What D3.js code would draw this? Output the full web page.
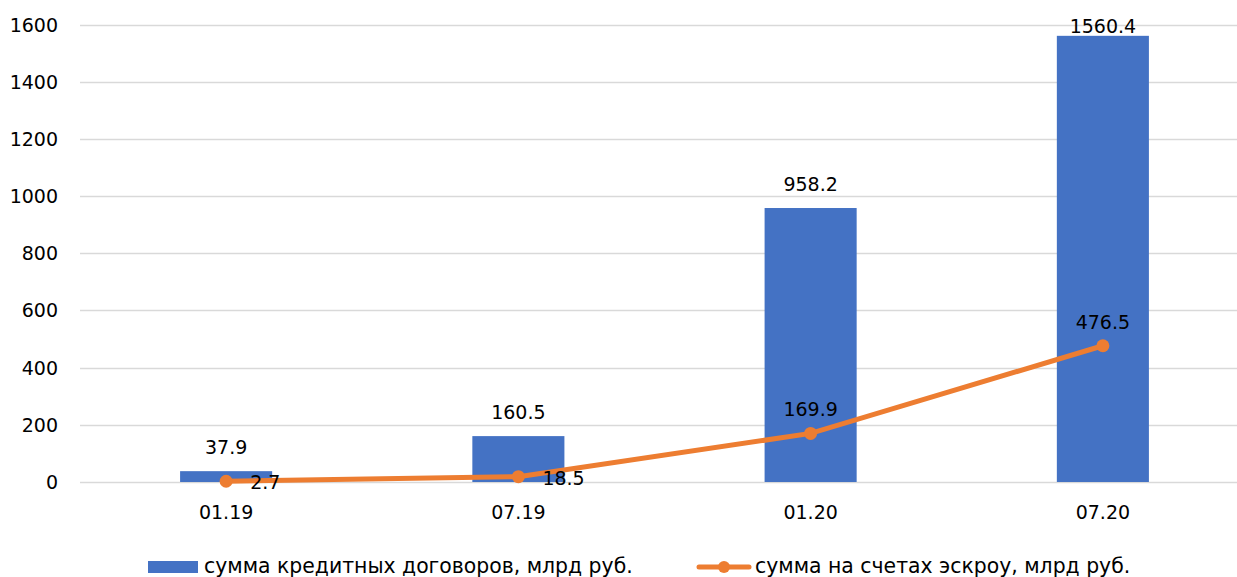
<!DOCTYPE html>
<html>
<head>
<meta charset="utf-8">
<script src="https://cdn.jsdelivr.net/npm/d3@7"></script>
<style>
  body { margin: 0; background: #fff; }
  text { font-family: "DejaVu Sans", Verdana, sans-serif; fill: #000; }
</style>
</head>
<body>
<svg id="chart" width="1237" height="577"></svg>
<script>
const periods = ['01.19', '07.19', '01.20', '07.20'];
const loanSums = [37.9, 160.5, 958.2, 1560.4];
const escrowSums = [2.7, 18.5, 169.9, 476.5];
const yTicks = [0, 200, 400, 600, 800, 1000, 1200, 1400, 1600];
const barName = 'сумма кредитных договоров, млрд руб.';
const lineName = 'сумма на счетах эскроу, млрд руб.';

const blue = '#4472C4';
const orange = '#ED7D31';
const fs = 19;
const legendFs = 20.4;

const svg = d3.select('#chart');

const x = d3.scaleBand()
  .domain(periods)
  .range([80, 1249])
  .paddingInner(0.685)
  .paddingOuter(0.3425);

const y = d3.scaleLinear()
  .domain([0, 1600])
  .range([482, 24.5]);

// gridlines
svg.append('g')
  .selectAll('line')
  .data(yTicks)
  .enter()
  .append('line')
  .attr('x1', 80)
  .attr('x2', 1237)
  .attr('y1', d => Math.round(y(d)) + 0.5)
  .attr('y2', d => Math.round(y(d)) + 0.5)
  .attr('stroke', '#d9d9d9')
  .attr('stroke-width', 1.3);

// y labels
svg.append('g')
  .selectAll('text')
  .data(yTicks)
  .enter()
  .append('text')
  .attr('x', 58)
  .attr('y', d => y(d) + 7)
  .attr('text-anchor', 'end')
  .style('font-size', fs + 'px')
  .text(d => d);

// x labels
svg.append('g')
  .selectAll('text')
  .data(periods)
  .enter()
  .append('text')
  .attr('x', d => x(d) + x.bandwidth() / 2)
  .attr('y', 519)
  .attr('text-anchor', 'middle')
  .style('font-size', fs + 'px')
  .text(d => d);

// bars
svg.append('g')
  .selectAll('rect')
  .data(loanSums)
  .enter()
  .append('rect')
  .attr('x', (d, i) => x(periods[i]))
  .attr('y', d => y(d))
  .attr('width', x.bandwidth())
  .attr('height', d => y(0) - y(d))
  .attr('fill', blue);

// bar labels, pushed down when they would leave the plot top
svg.append('g')
  .selectAll('text')
  .data(loanSums)
  .enter()
  .append('text')
  .attr('x', (d, i) => x(periods[i]) + x.bandwidth() / 2)
  .attr('y', d => Math.max(y(d) - 17, 33))
  .attr('text-anchor', 'middle')
  .style('font-size', fs + 'px')
  .text(d => d.toFixed(1));

// escrow line
const cx = (d, i) => x(periods[i]) + x.bandwidth() / 2;
const line = d3.line()
  .x(cx)
  .y(d => y(d));

svg.append('path')
  .datum(escrowSums)
  .attr('fill', 'none')
  .attr('stroke', orange)
  .attr('stroke-width', 5)
  .attr('stroke-linecap', 'round')
  .attr('d', line);

svg.append('g')
  .selectAll('circle')
  .data(escrowSums)
  .enter()
  .append('circle')
  .attr('cx', cx)
  .attr('cy', d => y(d))
  .attr('r', 6.5)
  .attr('fill', orange);

// line labels: first two to the right, last two above
svg.append('g')
  .selectAll('text')
  .data(escrowSums)
  .enter()
  .append('text')
  .attr('x', (d, i) => i < 2 ? cx(d, i) + 24 : cx(d, i))
  .attr('y', (d, i) => i < 2 ? y(d) + 8 : y(d) - 17)
  .attr('text-anchor', (d, i) => i < 2 ? 'start' : 'middle')
  .style('font-size', fs + 'px')
  .text(d => d.toFixed(1));

// legend
const lg = svg.append('g');
lg.append('rect')
  .attr('x', 148).attr('y', 561)
  .attr('width', 50).attr('height', 12)
  .attr('fill', blue);
lg.append('text')
  .attr('x', 204).attr('y', 573)
  .style('font-size', legendFs + 'px')
  .text(barName);

lg.append('line')
  .attr('x1', 699).attr('x2', 749)
  .attr('y1', 567).attr('y2', 567)
  .attr('stroke', orange)
  .attr('stroke-width', 5)
  .attr('stroke-linecap', 'round');
lg.append('circle')
  .attr('cx', 724).attr('cy', 567).attr('r', 6)
  .attr('fill', orange);
lg.append('text')
  .attr('x', 755).attr('y', 573)
  .style('font-size', legendFs + 'px')
  .text(lineName);
</script>
</body>
</html>
